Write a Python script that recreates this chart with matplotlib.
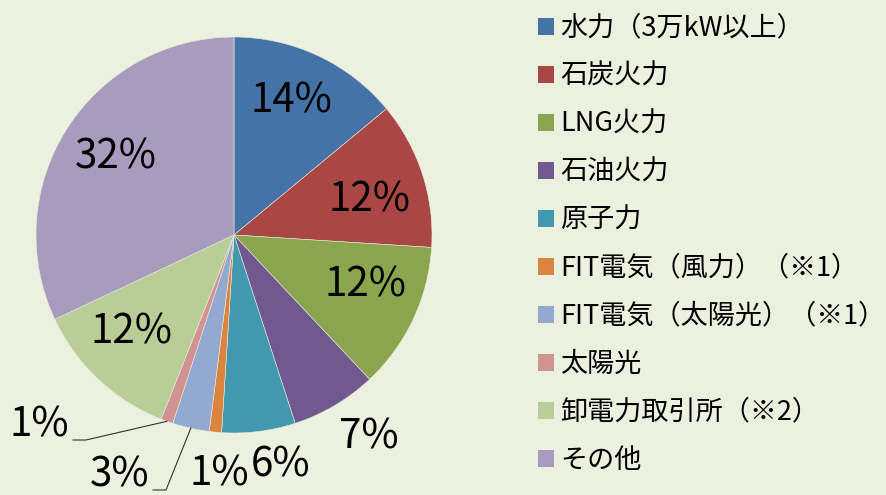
import matplotlib
matplotlib.use("Agg")
import numpy as np
import matplotlib.pyplot as plt
from matplotlib.patches import Patch

plt.rcParams["font.family"] = ["Noto Sans CJK JP", "DejaVu Sans"]

# Data

sources = [
    "水力（3万kW以上）",
    "石炭火力",
    "LNG火力",
    "石油火力",
    "原子力",
    "FIT電気（風力）（※1）",
    "FIT電気（太陽光）（※1）",
    "太陽光",
    "卸電力取引所（※2）",
    "その他",
]
shares = [14, 12, 12, 7, 6, 1, 3, 1, 12, 32]
colors = [
    "#4572A7", "#AA4643", "#89A54E", "#71588F", "#4198AF",
    "#DB843D", "#93A9CF", "#D19392", "#B9CD96", "#A99BBD",
]

# label placement (pixels of the 887x495 image)
label_px = [
    (291, 101), (370, 200), (365, 285), (369, 437), (281, 465),
    (219, 474), (120, 475), (39, 425), (131, 332), (116, 157),
]
leader = {6: (166, 490, 153), 7: (86, 440, 73)}

BG = "#EBF0DF"
W, H = 887, 495
CX, CY, R = 234, 235, 198

fig = plt.figure(figsize=(W / 100, H / 100), dpi=100, facecolor=BG)
ax = fig.add_axes([(CX - R) / W, (H - CY - R) / H, 2 * R / W, 2 * R / H])
ax.set_facecolor(BG)

wedges, _ = ax.pie(
    shares,
    colors=colors,
    startangle=90,
    counterclock=False,
    radius=1,
    wedgeprops=dict(edgecolor="#E8ECDC", linewidth=0.4),
)
ax.set_xlim(-1, 1)
ax.set_ylim(-1, 1)
ax.set_aspect("equal")
ax.axis("off")


def to_data(px, py):
    return (px - CX) / R, (CY - py) / R


for i, (val, (px, py)) in enumerate(zip(shares, label_px)):
    x, y = to_data(px, py)
    ax.text(x, y, f"{val}%", ha="center", va="center",
            fontsize=29, color="black", clip_on=False)

# leader lines for the small slices
for i, (ex, ey, hx) in leader.items():
    w = wedges[i]
    mid = np.deg2rad((w.theta1 + w.theta2) / 2)
    sx, sy = np.cos(mid), np.sin(mid)
    x1, y1 = to_data(ex, ey)
    x2, _ = to_data(hx, ey)
    ax.plot([sx, x1, x2], [sy, y1, y1], color="#333333",
            linewidth=0.8, clip_on=False)

handles = [Patch(facecolor=c, edgecolor="none") for c in colors]
fig.legend(
    handles, sources,
    loc="upper left",
    bbox_to_anchor=(527 / W, 1 - 4 / H),
    frameon=False,
    fontsize=19.5,
    handlelength=0.6,
    handleheight=0.6,
    handletextpad=0.22,
    labelspacing=0.775,
    borderaxespad=0,
)

fig.savefig("out.png", dpi=100, facecolor=BG)
